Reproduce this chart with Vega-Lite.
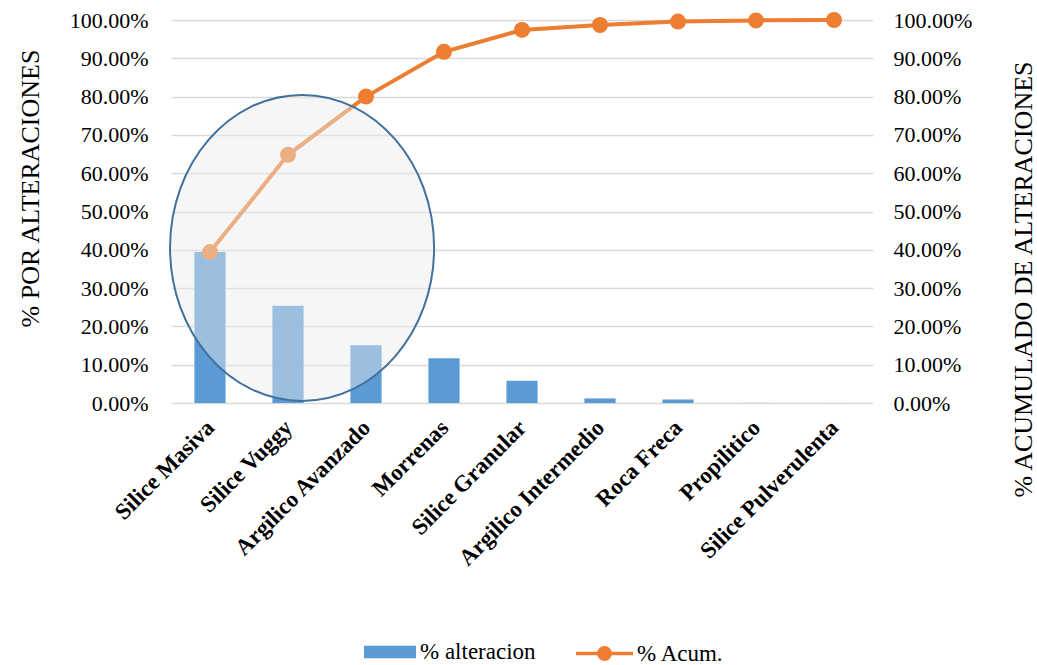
{
  "$schema": "https://vega.github.io/schema/vega-lite/v6.json",
  "width": 702,
  "height": 383,
  "autosize": "none",
  "padding": {"left": 171, "top": 20, "right": 164, "bottom": 262},
  "background": "white",
  "config": {
    "view": {"stroke": null},
    "font": "Liberation Serif",
    "axis": {"labelFont": "Liberation Serif", "titleFont": "Liberation Serif", "labelColor": "#000000", "titleColor": "#000000"},
    "legend": {"labelFont": "Liberation Serif", "labelColor": "#000000"}
  },
  "data": {
    "values": [
      {"alteracion": "Silice Masiva", "pct": 0.394, "acum": 0.394},
      {"alteracion": "Silice Vuggy", "pct": 0.254, "acum": 0.648},
      {"alteracion": "Argilico Avanzado", "pct": 0.151, "acum": 0.800},
      {"alteracion": "Morrenas", "pct": 0.117, "acum": 0.917},
      {"alteracion": "Silice Granular", "pct": 0.058, "acum": 0.974},
      {"alteracion": "Argilico Intermedio", "pct": 0.012, "acum": 0.987},
      {"alteracion": "Roca Freca", "pct": 0.009, "acum": 0.996},
      {"alteracion": "Propilitico", "pct": 0.0003, "acum": 0.999},
      {"alteracion": "Silice Pulverulenta", "pct": 0.0001, "acum": 1.0}
    ]
  },
  "encoding": {
    "x": {
      "field": "alteracion",
      "type": "nominal",
      "sort": null,
      "scale": {"paddingInner": 0.6, "paddingOuter": 0.3},
      "axis": {
        "title": null,
        "domain": false,
        "ticks": false,
        "labelAngle": -45,
        "labelAlign": "right",
        "labelBaseline": "top",
        "labelOffset": -7,
        "labelPadding": 13,
        "labelFontSize": 23,
        "labelFontWeight": "bold",
        "labelLimit": 400
      }
    }
  },
  "layer": [
    {
      "mark": {"type": "bar", "color": "#5b9bd5"},
      "encoding": {
        "y": {
          "field": "pct",
          "type": "quantitative",
          "scale": {"domain": [0, 1]},
          "axis": {
            "title": "% POR ALTERACIONES",
            "format": ".2%",
            "values": [0, 0.1, 0.2, 0.3, 0.4, 0.5, 0.6, 0.7, 0.8, 0.9, 1],
            "grid": true,
            "gridColor": "#d9d9d9",
            "gridWidth": 1.3,
            "domain": false,
            "ticks": false,
            "labelPadding": 23,
            "labelFontSize": 22,
            "titleFontSize": 26,
            "titleFontWeight": "normal",
            "titleAngle": 270,
            "titleBaseline": "middle",
            "titleAlign": "center",
            "titleX": -141,
            "titleY": 168
          }
        },
        "fill": {
          "datum": "% alteracion",
          "scale": {"range": ["#5b9bd5"]},
          "legend": {
            "orient": "none",
            "legendX": 193,
            "legendY": 606,
            "title": null,
            "padding": 0,
            "symbolType": "M-1,-0.24L1,-0.24L1,0.24L-1,0.24Z",
            "symbolSize": 2704,
            "symbolStrokeWidth": 0,
            "labelFontSize": 23,
            "labelOffset": 4
          }
        }
      }
    },
    {
      "encoding": {
        "y": {
          "field": "acum",
          "type": "quantitative",
          "scale": {"domain": [0, 1]},
          "axis": {
            "orient": "right",
            "title": "% ACUMULADO DE ALTERACIONES",
            "format": ".2%",
            "values": [0, 0.1, 0.2, 0.3, 0.4, 0.5, 0.6, 0.7, 0.8, 0.9, 1],
            "grid": false,
            "domain": false,
            "ticks": false,
            "labelPadding": 20,
            "labelFontSize": 22,
            "titleFontSize": 26,
            "titleFontWeight": "normal",
            "titleAngle": 270,
            "titleBaseline": "middle",
            "titleAlign": "center",
            "titleX": 150,
            "titleY": 259
          }
        }
      },
      "layer": [
        {
          "mark": {"type": "line", "color": "#ed7d31", "strokeWidth": 4},
          "encoding": {
            "stroke": {
              "datum": "% Acum.",
              "scale": {"range": ["#ed7d31"]},
              "legend": {
                "orient": "none",
                "legendX": 403,
                "legendY": 603,
                "title": null,
                "padding": 0,
                "symbolType": "M-1,0L-0.2,0M0.2,0L1,0M-0.2,0A0.2,0.2,0,1,1,0.2,0A0.2,0.2,0,1,1,-0.2,0Z",
                "symbolSize": 3249,
                "symbolStrokeWidth": 3.5,
                "symbolFillColor": "#ed7d31",
                "labelFontSize": 23,
                "labelOffset": 2
              }
            }
          }
        },
        {
          "mark": {"type": "point", "filled": true, "size": 256, "color": "#ed7d31", "opacity": 1}
        }
      ]
    },
    {
      "data": {"values": [{"zona": "principales"}]},
      "mark": {
        "type": "point",
        "shape": "M-0.771,0A0.863,1,0,1,1,0.955,0A0.863,1,0,1,1,-0.771,0Z",
        "size": 93636,
        "filled": true,
        "fill": "#ececec",
        "fillOpacity": 0.45,
        "stroke": "#41719c",
        "strokeWidth": 2,
        "strokeOpacity": 1,
        "opacity": 1
      },
      "encoding": {
        "x": {"datum": "Silice Vuggy", "type": "nominal"},
        "y": {"datum": 0.405, "type": "quantitative", "scale": {"domain": [0, 1]}, "axis": null}
      }
    }
  ],
  "resolve": {"scale": {"y": "independent"}}
}
